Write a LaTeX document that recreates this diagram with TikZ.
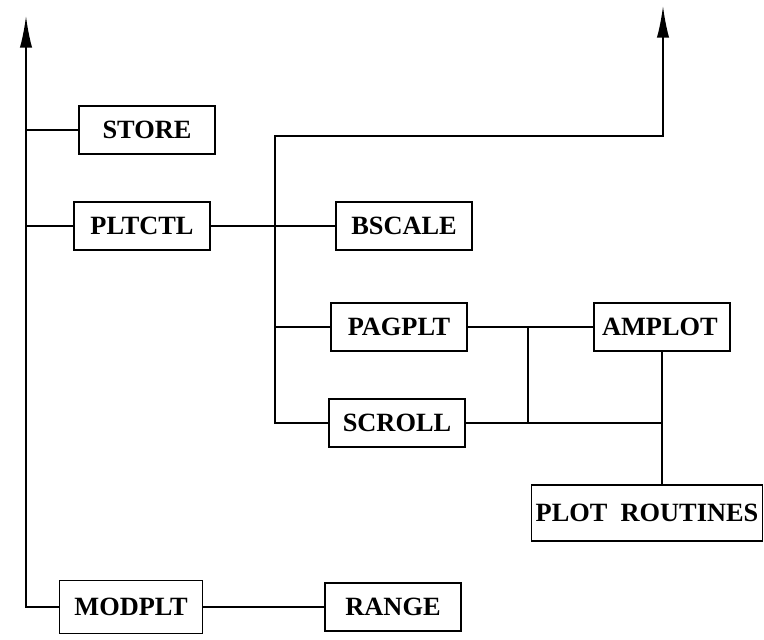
\documentclass[tikz,border=0pt]{standalone}
\usepackage{fontspec}
\setmainfont{Liberation Serif}
\usetikzlibrary{arrows.meta,positioning,calc}

\begin{document}
\begin{tikzpicture}[x=0.02cm,y=-0.02cm,line width=1pt,
every node/.style={draw,rectangle,minimum width=2.72cm,minimum height=0.96cm,
inner sep=2pt,font=\fontsize{15}{17}\selectfont\bfseries}]
\useasboundingbox (0,0) rectangle (764,639);
\node (STORE) at (147,130) {STORE};
\node (PLTCTL) at (142,226) {PLTCTL};
\node (BSCALE) at (404,226) {BSCALE};
\node (PAGPLT) at (399,327) {PAGPLT};
\node (SCROLL) at (397,423) {SCROLL};
\node[text width=2.4cm] (AMPLOT) at (662,327) {AMPLOT};
\node[minimum width=4.62cm,minimum height=1.12cm] (PLOT) at (647,513) {PLOT\ \ ROUTINES};
\node[minimum width=2.86cm,minimum height=1.06cm] (MODPLT) at (131,607) {MODPLT};
\node (RANGE) at (393,607) {RANGE};
\coordinate (topL) at (26,16);
\coordinate (topR) at (663,6);
\coordinate (bus) at (275,136);
\coordinate (jn) at (528,0);
\draw[-{Latex[length=18pt,width=7pt]}] (MODPLT.west) -| (topL);
\draw (STORE.west) -- (STORE.west -| topL);
\draw (PLTCTL.west) -- (PLTCTL.west -| topL);
\draw (PLTCTL.east) -- (BSCALE.west);
\draw[-{Latex[length=18pt,width=7pt]}] (SCROLL.west) -| (bus) -| (topR);
\draw (PAGPLT.west) -- (PAGPLT.west -| bus);
\draw (PAGPLT.east) -- (AMPLOT.west);
\draw (PAGPLT.east -| jn) -- (SCROLL.east -| jn);
\draw (SCROLL.east) -- (SCROLL.east -| AMPLOT.south);
\draw (AMPLOT.south) -- (PLOT.north -| AMPLOT.south);
\draw (MODPLT.east) -- (RANGE.west);
\end{tikzpicture}
\end{document}
